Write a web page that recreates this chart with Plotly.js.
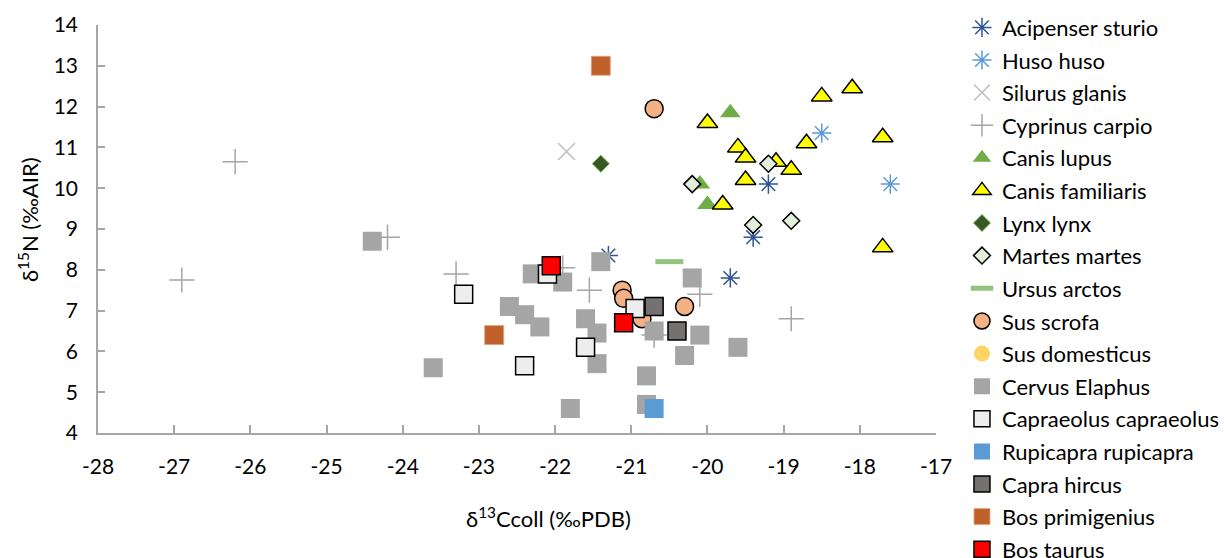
<!DOCTYPE html>
<html>
<head>
<meta charset="utf-8">
<script src="https://cdn.plot.ly/plotly-3.0.1.min.js"></script>
<style>html,body{margin:0;padding:0;background:#fff;}#chart{width:1224px;height:558px;}</style>
</head>
<body>
<div id="chart"></div>
<script>
// Species names (legend order)
const species = ["Acipenser sturio","Huso huso","Silurus glanis","Cyprinus carpio","Canis lupus","Canis familiaris","Lynx lynx","Martes martes","Ursus arctos","Sus scrofa","Sus domesticus","Cervus Elaphus","Capraeolus capraeolus","Rupicapra rupicapra","Capra hircus","Bos primigenius","Bos taurus"];

// δ13C (x) and δ15N (y) values per species
const acipenserX = [-21.3, -19.2, -19.4, -19.7];
const acipenserY = [8.35, 10.1, 8.8, 7.8];
const husoX = [-18.5, -17.6];
const husoY = [11.35, 10.1];
const silurusX = [-21.85];
const silurusY = [10.9];
const cyprinusX = [-26.2, -26.9, -24.2, -23.3, -21.9, -21.55, -20.7, -20.1, -18.9];
const cyprinusY = [10.65, 7.75, 8.8, 7.9, 8.05, 7.5, 6.4, 7.4, 6.8];
const lupusX = [-19.7, -20.1, -20.0];
const lupusY = [11.85, 10.1, 9.6];
const familiarisX = [-20.0, -19.6, -19.5, -19.5, -19.8, -18.5, -18.1, -18.7, -17.7, -19.1, -18.9, -17.7];
const familiarisY = [11.6, 11.0, 10.75, 10.2, 9.6, 12.25, 12.45, 11.1, 11.25, 10.65, 10.45, 8.55];
const lynxX = [-21.4];
const lynxY = [10.6];
const martesX = [-20.2, -19.2, -19.4, -18.9];
const martesY = [10.1, 10.6, 9.1, 9.2];
const ursusX = [-20.5];
const ursusY = [8.2];
const scrofaX = [-20.7, -21.12, -21.1, -20.86, -20.3];
const scrofaY = [11.95, 7.5, 7.3, 6.8, 7.1];
const domesticusX = [null];   // no visible point in the chart, legend entry only
const domesticusY = [null];
const cervusX = [-24.4, -23.6, -22.6, -22.4, -22.2, -22.3, -21.9, -21.4, -21.6, -21.45, -21.45, -21.8, -20.7, -20.2, -20.1, -20.3, -20.8, -20.8, -19.6];
const cervusY = [8.7, 5.6, 7.1, 6.9, 6.6, 7.9, 7.7, 8.2, 6.8, 6.45, 5.7, 4.6, 6.5, 7.8, 6.4, 5.9, 5.4, 4.7, 6.1];
const capreolusX = [-23.2, -22.4, -22.1, -21.6, -20.95];
const capreolusY = [7.4, 5.65, 7.9, 6.1, 7.05];
const rupicapraX = [-20.7];
const rupicapraY = [4.6];
const capraX = [-20.7, -20.4];
const capraY = [7.1, 6.5];
const primigeniusX = [-21.4, -22.8];
const primigeniusY = [13.0, 6.4];
const taurusX = [-22.05, -21.1];
const taurusY = [8.1, 6.7];

const xTicks = [-28,-27,-26,-25,-24,-23,-22,-21,-20,-19,-18,-17];
const yTicks = [4,5,6,7,8,9,10,11,12,13,14];

const black = '#000000';
function tr(i, x, y, marker) {
  return {type:'scatter', mode:'markers', name:species[i], x:x, y:y, marker:marker, legendgroup:species[i],
    legend: i < 9 ? 'legend' : 'legend2', hoverinfo:'x+y+name'};
}
const data = [
  tr(0, acipenserX, acipenserY, {symbol:'asterisk-open', size:16, color:'#2F5597', line:{color:'#2F5597', width:1.5}}),
  tr(1, husoX, husoY, {symbol:'asterisk-open', size:16, color:'#5B9BD5', line:{color:'#5B9BD5', width:1.5}}),
  tr(2, silurusX, silurusY, {symbol:'x-thin-open', size:17, color:'#BFBFBF', line:{color:'#BFBFBF', width:1.5}}),
  tr(3, cyprinusX, cyprinusY, {symbol:'cross-thin-open', size:18, color:'#A5A5A5', line:{color:'#A5A5A5', width:1.5}}),
  tr(4, lupusX, lupusY, {symbol:'triangle-up', size:18, color:'#70AD47', line:{width:0}}),
  tr(5, familiarisX, familiarisY, {symbol:'triangle-up', size:18, color:'#FFFF00', line:{color:black, width:1.5}}),
  tr(6, lynxX, lynxY, {symbol:'diamond', size:13, color:'#375623', line:{color:'#70AD47', width:1}}),
  tr(7, martesX, martesY, {symbol:'diamond', size:13, color:'#E2EFDA', line:{color:black, width:1.5}}),
  tr(8, ursusX, ursusY, {symbol:'line-ew-open', size:20, color:'#93C47D', line:{color:'#93C47D', width:5}}),
  tr(9, scrofaX, scrofaY, {symbol:'circle', size:18, color:'#F4B183', line:{color:black, width:1.5}}),
  tr(10, domesticusX, domesticusY, {symbol:'circle', size:18, color:'#FFD467', line:{width:0}}),
  tr(11, cervusX, cervusY, {symbol:'square', size:19, color:'#A5A5A5', line:{width:0}}),
  tr(12, capreolusX, capreolusY, {symbol:'square', size:18, color:'#EDEDED', line:{color:black, width:1.5}}),
  tr(13, rupicapraX, rupicapraY, {symbol:'square', size:19, color:'#5B9BD5', line:{width:0}}),
  tr(14, capraX, capraY, {symbol:'square', size:18, color:'#767171', line:{color:black, width:1.5}}),
  tr(15, primigeniusX, primigeniusY, {symbol:'square', size:19, color:'#C0612B', line:{color:'#E3A27E', width:0.8}}),
  tr(16, taurusX, taurusY, {symbol:'square', size:18, color:'#FF0000', line:{color:black, width:1.5}})
];

const font = 'Lato, "Open Sans", "DejaVu Sans", sans-serif';
const legendCommon = {xanchor:'left', font:{size:22, family:font, color:'#000'}, tracegroupgap:1,
  bgcolor:'rgba(0,0,0,0)', itemclick:false, itemdoubleclick:false};
const layout = {
  width:1224, height:558,
  margin:{l:98, r:288, t:25, b:125, autoexpand:false},
  paper_bgcolor:'#ffffff', plot_bgcolor:'#ffffff',
  font:{family:font, size:21, color:'#000'},
  showlegend:true,
  xaxis:{range:[-28,-17], tickvals:xTicks, ticktext:xTicks.map(String), ticks:'inside', ticklen:8, tickwidth:1.5,
    tickcolor:'#A6A6A6', showline:true, linecolor:'#A6A6A6', linewidth:1.5, showgrid:false, zeroline:false,
    ticklabelstandoff:14, tickfont:{size:21, family:font}, fixedrange:true, automargin:false},
  yaxis:{range:[4,14], tickvals:yTicks, ticktext:yTicks.map(String), ticks:'inside', ticklen:7, tickwidth:1.5,
    tickcolor:'#A6A6A6', showline:true, linecolor:'#A6A6A6', linewidth:1.5, showgrid:false, zeroline:false,
    ticklabelstandoff:14, tickfont:{size:21, family:font}, fixedrange:true, automargin:false},
  legend:Object.assign({x:1.031, y:0.3025, yanchor:'bottom'}, legendCommon),
  legend2:Object.assign({x:1.031, y:0.3255, yanchor:'top'}, legendCommon),
  annotations:[
    {text:'δ<sup>13</sup>Ccoll (‰PDB)', xref:'paper', yref:'paper', x:0.537, y:-0.208, xanchor:'center', yanchor:'middle', showarrow:false, font:{size:22, family:font}},
    {text:'δ<sup>15</sup>N (‰AIR)', xref:'paper', yref:'paper', x:-0.0835, y:0.522, xanchor:'center', yanchor:'middle', textangle:-90, showarrow:false, font:{size:22, family:font}}
  ]
};
Plotly.newPlot('chart', data, layout, {displayModeBar:false});
</script>
</body>
</html>
